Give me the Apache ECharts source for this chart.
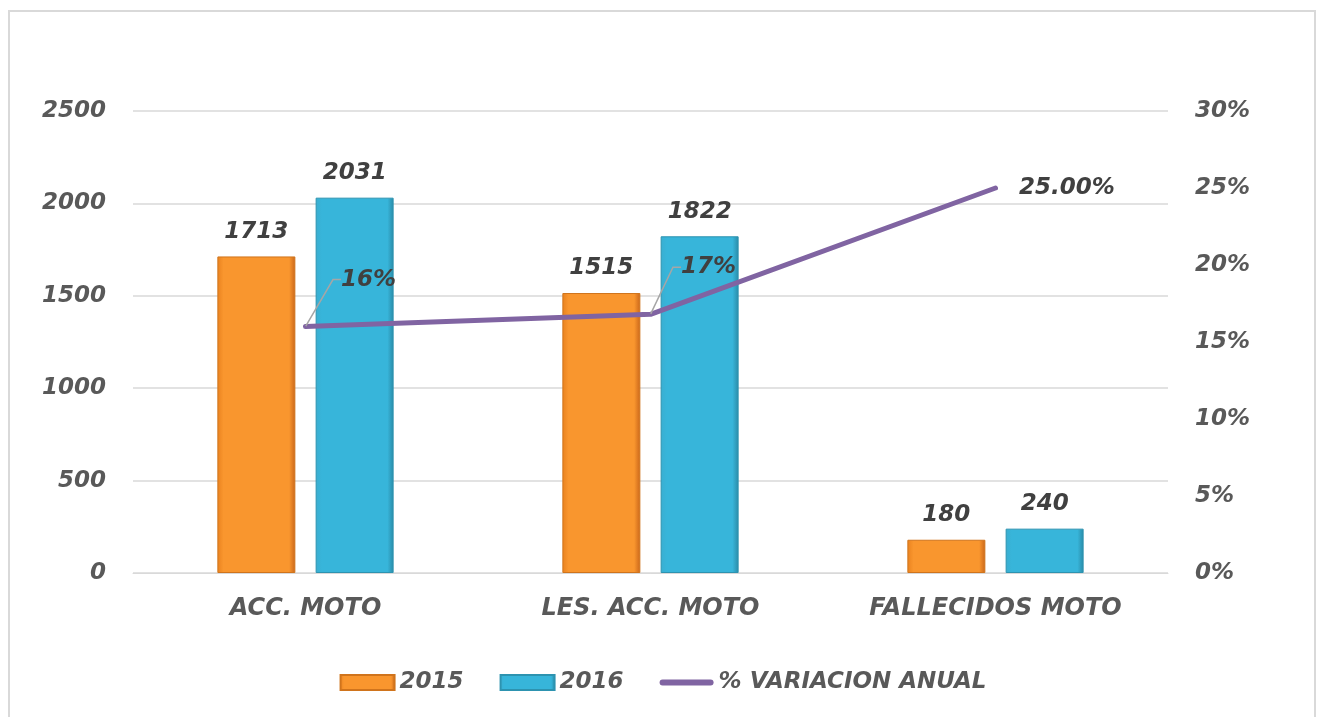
<!DOCTYPE html>
<html>
<head>
<meta charset="utf-8">
<script src="https://cdn.jsdelivr.net/npm/echarts@6/dist/echarts.min.js"></script>
<style>
  html, body { margin: 0; padding: 0; background: #fff; }
  #frame { position: absolute; left: 8px; top: 10px; width: 1308px; height: 720px; border: 2px solid #d9d9d9; box-sizing: border-box; }
  #chart { position: absolute; left: 0; top: 0; width: 1326px; height: 717px; }
</style>
</head>
<body>
<div id="frame"></div>
<div id="chart"></div>
<script>
// datos
const categories = ['ACC. MOTO', 'LES. ACC. MOTO', 'FALLECIDOS MOTO']
const values2015 = [1713, 1515, 180]
const values2016 = [2031, 1822, 240]
const variacion = [0.16, 0.168, 0.25]
const variacionLabels = ['16%', '17%', '25.00%']
const leftTicks = [0, 500, 1000, 1500, 2000, 2500]
const rightTicks = [0, 0.05, 0.10, 0.15, 0.20, 0.25, 0.30]

const FONT = '"DejaVu Sans", "Liberation Sans", Arial, sans-serif'
const txt = (size, color) => ({ fontFamily: FONT, fontSize: size, fontWeight: 'bold', fontStyle: 'italic', color: color })

function barGradient (edge, mid, dark) {
  return new echarts.graphic.LinearGradient(0, 0, 1, 0, [
    { offset: 0, color: edge },
    { offset: 0.08, color: mid },
    { offset: 0.92, color: mid },
    { offset: 1, color: dark }
  ])
}

const chart = echarts.init(document.getElementById('chart'))
const option = {
  animation: false,
  grid: { left: 133, right: 158, top: 111, bottom: 144 },
  legend: {
    bottom: 18,
    left: 'center',
    itemWidth: 54,
    itemHeight: 15,
    itemGap: 36,
    textStyle: txt(23, '#595959'),
    data: [
      { name: '2015', icon: 'rect' },
      { name: '2016', icon: 'rect' },
      { name: '% VARIACION ANUAL', icon: 'path://M3,0 L51,0 A3,3 0 0 1 51,6 L3,6 A3,3 0 0 1 3,0 Z' }
    ]
  },
  xAxis: {
    type: 'category',
    data: categories,
    axisLine: { show: true, lineStyle: { color: '#d9d9d9', width: 1 } },
    axisTick: { show: false },
    axisLabel: Object.assign({ margin: 24 }, txt(24, '#595959'))
  },
  yAxis: [
    {
      type: 'value',
      min: leftTicks[0],
      max: leftTicks[leftTicks.length - 1],
      interval: 500,
      axisLine: { show: false },
      axisTick: { show: false },
      splitLine: { lineStyle: { color: '#d9d9d9', width: 1.5 } },
      axisLabel: Object.assign({ margin: 27, formatter: v => String(v) }, txt(23, '#595959'))
    },
    {
      type: 'value',
      min: rightTicks[0],
      max: rightTicks[rightTicks.length - 1],
      interval: 0.05,
      axisLine: { show: false },
      axisTick: { show: false },
      splitLine: { show: false },
      axisLabel: Object.assign({
        margin: 27,
        formatter: v => Math.round(v * 100) + '%'
      }, txt(23, '#595959'))
    }
  ],
  series: [
    {
      name: '2015',
      type: 'bar',
      barWidth: 78,
      barGap: '26%',
      data: values2015,
      itemStyle: {
        color: barGradient('#e9821f', '#f9962e', '#c9661a'),
        borderColor: '#d0741c',
        borderWidth: 1
      },
      label: Object.assign({ show: true, position: 'top', distance: 13 }, txt(23, '#404040'))
    },
    {
      name: '2016',
      type: 'bar',
      barWidth: 78,
      data: values2016,
      itemStyle: {
        color: barGradient('#3aaed0', '#37b5da', '#2a8aa6'),
        borderColor: '#2d93b0',
        borderWidth: 1
      },
      label: Object.assign({ show: true, position: 'top', distance: 13 }, txt(23, '#404040'))
    },
    {
      name: '% VARIACION ANUAL',
      type: 'line',
      yAxisIndex: 1,
      // el último punto no lleva línea guía
      data: variacion.map((v, i) => i === variacion.length - 1 ? { value: v, labelLine: { show: false } } : v),
      symbol: 'circle',
      symbolSize: 1,
      showSymbol: true,
      lineStyle: { color: '#8064a2', width: 5, cap: 'round' },
      itemStyle: { color: '#8064a2' },
      label: Object.assign({
        show: true,
        position: 'right',
        distance: 23,
        formatter: p => variacionLabels[p.dataIndex]
      }, txt(23, '#404040')),
      labelLayout: function (params) {
        if (params.dataIndex === 2) return {}
        return { dx: params.dataIndex === 0 ? 12 : 7, dy: -47 }
      },
      labelLine: {
        show: true,
        length2: 8,
        lineStyle: { color: '#a6a6a6', width: 1.5 }
      }
    }
  ]
}
chart.setOption(option)
window.onresize = () => {
  chart.resize()
}
</script>
</body>
</html>
